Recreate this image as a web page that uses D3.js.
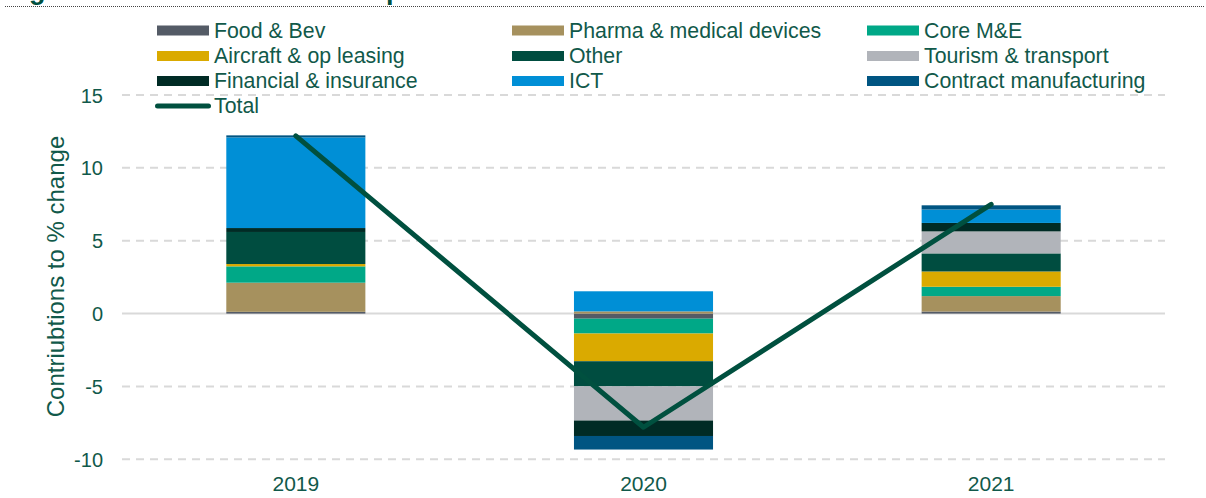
<!DOCTYPE html>
<html>
<head>
<meta charset="utf-8">
<script src="https://cdn.jsdelivr.net/npm/d3@7"></script>
<style>
  html, body { margin: 0; padding: 0; background: #fff; }
  svg { display: block; font-family: "Liberation Sans", Arial, sans-serif; }
</style>
</head>
<body>
<svg id="chart" width="1206" height="498"></svg>
<script>
// ---- data ----
const years = ["2019", "2020", "2021"];
const seriesNames = ["Food & Bev", "Pharma & medical devices", "Core M&E",
  "Aircraft & op leasing", "Other", "Tourism & transport",
  "Financial & insurance", "ICT", "Contract manufacturing"];
const foodBev   = [0.12, -0.35, 0.14];
const pharma    = [2.00,  0.15, 1.06];
const coreME    = [1.12, -1.02, 0.64];
const aircraft  = [0.16, -1.90, 1.05];
const other     = [2.20, -1.72, 1.24];
const tourism   = [0.00, -2.35, 1.51];
const financial = [0.27, -1.06, 0.58];
const ict       = [6.22,  1.38, 0.92];
const contract  = [0.14, -0.93, 0.29];
const total     = [12.2, -7.8, 7.5];
const yTicks = [-10, -5, 0, 5, 10, 15];
const titleText = "Figure 2: Contributions to output";
const yAxisTitle = "Contriubtions to % change";
const totalName = "Total";

const seriesValues = [foodBev, pharma, coreME, aircraft, other, tourism, financial, ict, contract];
const colors = ["#545B66", "#A6915E", "#00A887", "#DAAA00", "#004D40",
  "#B1B4BA", "#002B25", "#008FD6", "#005582"];
const lineColor = "#00503F";
const textColor = "#11594A";

// ---- build table ----
const table = years.map((y, i) => {
  const row = { year: y };
  seriesNames.forEach((s, k) => row[s] = seriesValues[k][i]);
  return row;
});

const svg = d3.select("#chart");

const x = d3.scaleBand().domain(years).range([122, 1165])
  .paddingInner(0.6).paddingOuter(0.3);
const y = d3.scaleLinear().domain([-10, 15]).range([459.3, 95]);

// title (cut off at the top edge, as in the reference)
svg.append("text")
  .attr("x", 5).attr("y", -1.5)
  .attr("font-size", 27).attr("font-weight", "bold")
  .attr("fill", lineColor)
  .text(titleText);
svg.append("line")
  .attr("x1", 5).attr("x2", 1205).attr("y1", 6.5).attr("y2", 6.5)
  .attr("stroke", "#444").attr("stroke-width", 1)
  .attr("stroke-dasharray", "1,1");

// gridlines
svg.append("g").selectAll("line").data(yTicks).join("line")
  .attr("x1", 122).attr("x2", 1165)
  .attr("y1", d => y(d)).attr("y2", d => y(d))
  .attr("stroke", "#D9D9D9").attr("stroke-width", 2)
  .attr("stroke-dasharray", d => d === 0 ? null : "8,6");

// y tick labels
svg.append("g").selectAll("text").data(yTicks).join("text")
  .attr("x", 103).attr("y", d => y(d) + 7.5)
  .attr("text-anchor", "end").attr("font-size", 20)
  .attr("fill", textColor)
  .text(d => d);

// x tick labels
svg.append("g").selectAll("text").data(years).join("text")
  .attr("x", d => x(d) + x.bandwidth() / 2).attr("y", 491)
  .attr("text-anchor", "middle").attr("font-size", 21)
  .attr("fill", textColor)
  .text(d => d);

// axis title
svg.append("text")
  .attr("transform", "translate(64,276.5) rotate(-90)")
  .attr("text-anchor", "middle").attr("font-size", 24)
  .attr("fill", textColor)
  .text(yAxisTitle);

// stacked bars
const stack = d3.stack().keys(seriesNames).offset(d3.stackOffsetDiverging);
const stacked = stack(table);
svg.append("g").selectAll("g").data(stacked).join("g")
  .attr("fill", (d, k) => colors[k])
  .selectAll("rect").data(d => d).join("rect")
  .attr("x", d => x(d.data.year))
  .attr("width", x.bandwidth())
  .attr("y", d => y(Math.max(d[0], d[1])))
  .attr("height", d => Math.abs(y(d[0]) - y(d[1])));

// total line
const line = d3.line()
  .x((d, i) => x(years[i]) + x.bandwidth() / 2)
  .y(d => y(d));
svg.append("path").datum(total)
  .attr("d", line)
  .attr("fill", "none").attr("stroke", lineColor)
  .attr("stroke-width", 5).attr("stroke-linejoin", "round")
  .attr("stroke-linecap", "round");

// legend
const colX = [157, 512, 867];
const rowY = [30.5, 56, 81];
const leg = svg.append("g");
seriesNames.forEach((s, k) => {
  const cx = colX[k % 3], cy = rowY[Math.floor(k / 3)];
  leg.append("rect").attr("x", cx).attr("y", cy - 5)
    .attr("width", 52).attr("height", 10).attr("fill", colors[k]);
  leg.append("text").attr("x", cx + 57).attr("y", cy + 7)
    .attr("font-size", 21.3).attr("fill", textColor).text(s);
});
leg.append("line").attr("x1", 157.5).attr("x2", 208.5)
  .attr("y1", 106).attr("y2", 106)
  .attr("stroke", lineColor).attr("stroke-width", 5)
  .attr("stroke-linecap", "round");
leg.append("text").attr("x", 214).attr("y", 113)
  .attr("font-size", 21.3).attr("fill", textColor).text(totalName);
</script>
</body>
</html>
